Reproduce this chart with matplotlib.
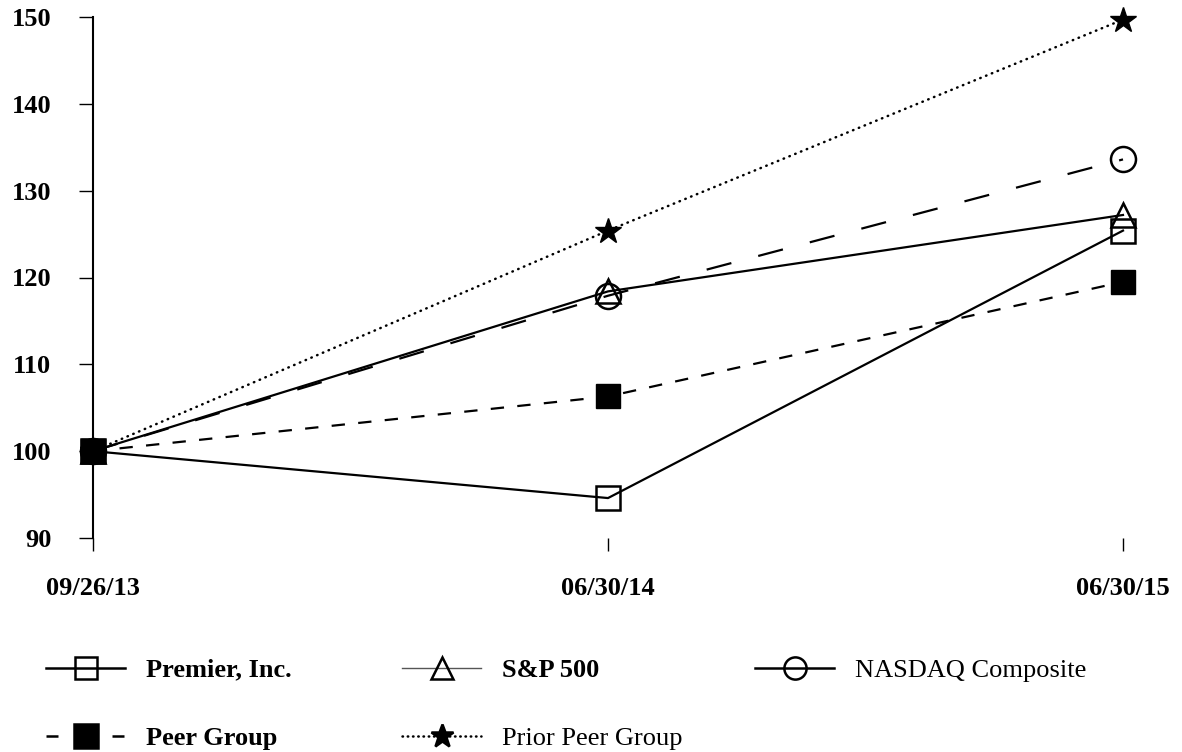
import matplotlib
matplotlib.use("Agg")
import matplotlib.pyplot as plt
from matplotlib.lines import Line2D

plt.rcParams['font.family'] = ['Liberation Serif', 'DejaVu Serif']

dates = ["09/26/13", "06/30/14", "06/30/15"]
premier = [100, 94.6, 125.4]
sp500 = [100, 118.4, 127.2]
nasdaq = [100, 117.9, 133.6]
peer = [100, 106.3, 119.5]
prior_peer = [100, 125.4, 149.7]
yticks = [90, 100, 110, 120, 130, 140, 150]

fig = plt.figure(figsize=(11.82, 7.52), dpi=100)
ax = fig.add_axes([93/1182, 1-538/752, (1123-93)/1182, (538-17)/752])
x = list(range(len(dates)))
lw = 1.6
ms = 17

ax.plot(x, nasdaq, color='black', lw=lw, dashes=(11.5, 12.5), marker='o', ms=ms+1,
        mfc='none', mec='black', mew=1.8, zorder=3, clip_on=False)
ax.plot(x, peer, color='black', lw=lw, dashes=(6, 6), marker='s', ms=ms,
        mfc='black', mec='black', zorder=3, clip_on=False)
ax.plot(x, prior_peer, color='black', lw=1.8, dashes=(0.2, 2.3), dash_capstyle='round',
        marker='*', ms=ms+2, mfc='black', mec='black', zorder=3, clip_on=False)
ax.plot(x, sp500, color='black', lw=lw, marker='^', ms=ms,
        mfc='none', mec='black', mew=1.8, zorder=4, clip_on=False)
ax.plot(x, premier, color='black', lw=lw, marker='s', ms=ms,
        mfc='none', mec='black', mew=1.8, zorder=4, clip_on=False)
# Peer group first point drawn on top
ax.plot([x[0]], [peer[0]], marker='s', ms=ms, color='black', lw=0, zorder=5, clip_on=False)

ax.set_xlim(0, 2)
ax.set_ylim(90, 150)
ax.set_yticks(yticks)
ax.set_xticks(x)
ax.set_xticklabels(dates)
for s in ['top', 'right', 'bottom']:
    ax.spines[s].set_visible(False)
ax.spines['left'].set_linewidth(1.5)
ax.tick_params(axis='y', length=10, width=1, direction='out', pad=20, labelsize=19)
ax.tick_params(axis='x', length=9, width=1, direction='out', pad=19, labelsize=19)
for t in ax.get_yticklabels() + ax.get_xticklabels():
    t.set_fontweight('bold')

def handle(marker, mfc, lw_=1.8, color='black', dashes=None, ms_=16, capstyle='butt'):
    kw = dict(color=color, lw=lw_, marker=marker, ms=ms_, mfc=mfc, mec='black', mew=1.8,
              dash_capstyle=capstyle)
    if dashes is not None:
        kw['dashes'] = dashes
    else:
        kw['ls'] = '-'
    return Line2D([], [], **kw)

entries = [
    (handle('s', 'none'), 'Premier, Inc.', 'bold', 46, 670),
    (handle('^', 'none', lw_=1.0, color='#555555'), 'S&P 500', 'bold', 402, 670),
    (handle('o', 'none'), 'NASDAQ Composite', 'normal', 755, 670),
    (handle('s', 'black', dashes=(4.8, 21.6), ms_=17), 'Peer Group', 'bold', 46, 738),
    (handle('*', 'black', dashes=(0.2, 1.9), capstyle='round', ms_=17), 'Prior Peer Group', 'normal', 402, 738),
]
for h, lab, wt, px, py in entries:
    fig.legend([h], [lab], loc='center left',
               bbox_to_anchor=(px/1182, 1-py/752), frameon=False,
               handlelength=3.0, handletextpad=0.8, borderpad=0, borderaxespad=0,
               prop={'size': 19, 'weight': wt})

fig.savefig('out.png', dpi=100)
